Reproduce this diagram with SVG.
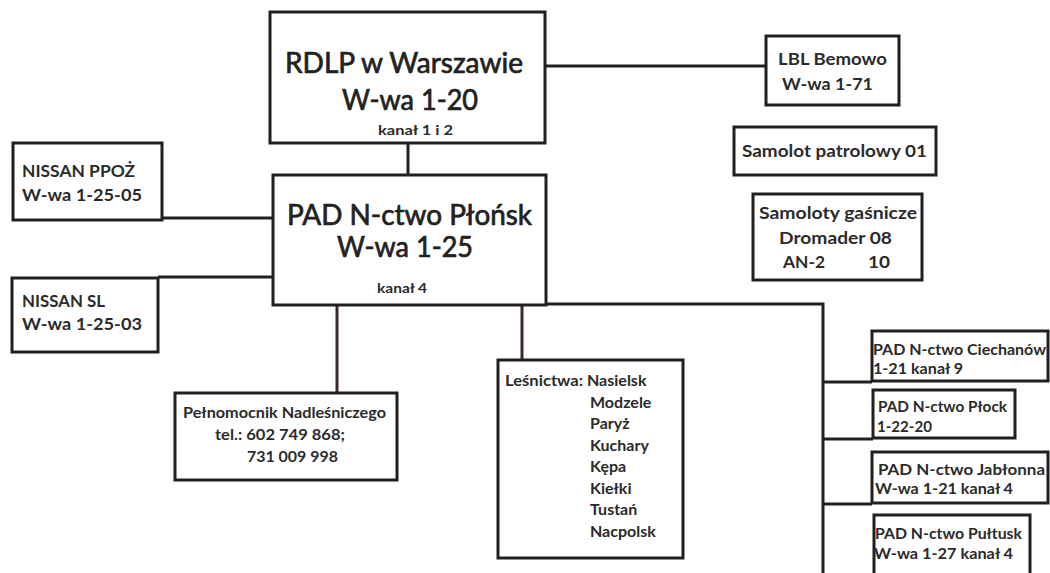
<svg xmlns="http://www.w3.org/2000/svg" width="1050" height="573" viewBox="0 0 1050 573">
<style>
.box{fill:#fff;stroke:#231f20;stroke-width:3}
.ln{fill:none;stroke:#231f20;stroke-width:3}
.ln2{fill:none;stroke:#3a2b26;stroke-width:3}
text{font-family:Lato,"Open Sans","Liberation Sans",sans-serif;font-weight:700;fill:#2b2b2b}
.big{font-size:28px;font-weight:400;fill:#222;stroke:#222;stroke-width:0.7}
.sm{font-size:13px}
.md{font-size:16px}
.mdl{font-size:17px}
</style>
<rect width="1050" height="573" fill="#fff"/>
<g id="connectors">
<path class="ln" d="M545 66H766"/>
<path class="ln" d="M408 143V175"/>
<path class="ln" d="M162 218H273"/>
<path class="ln" d="M158 277H273"/>
<path class="ln2" d="M337 305V393"/>
<path class="ln2" d="M522 305V360"/>
<path class="ln" d="M546 304H823V573"/>
<path class="ln" d="M823 382H872"/>
<path class="ln" d="M823 439H873"/>
<path class="ln" d="M823 504H872"/>
</g>
<g id="rdlp">
<rect class="box" x="270" y="12" width="275" height="131"/>
<text class="big" x="285" y="73" textLength="238" lengthAdjust="spacingAndGlyphs">RDLP w Warszawie</text>
<text class="big" x="342" y="110" textLength="136" lengthAdjust="spacingAndGlyphs">W-wa 1-20</text>
<text class="sm" x="378" y="135" textLength="75" lengthAdjust="spacingAndGlyphs">kanał 1 i 2</text>
</g>
<g id="lbl">
<rect class="box" x="766" y="36" width="133" height="69"/>
<text class="mdl" x="778" y="65" textLength="109" lengthAdjust="spacingAndGlyphs">LBL Bemowo</text>
<text class="mdl" x="782" y="90" textLength="91" lengthAdjust="spacingAndGlyphs">W-wa 1-71</text>
</g>
<g id="patrol">
<rect class="box" x="734" y="127" width="202" height="48"/>
<text class="mdl" x="742" y="157" textLength="185" lengthAdjust="spacingAndGlyphs">Samolot patrolowy 01</text>
</g>
<g id="gasnicze">
<rect class="box" x="753" y="194" width="169" height="86"/>
<text class="mdl" x="759" y="219" textLength="158" lengthAdjust="spacingAndGlyphs">Samoloty gaśnicze</text>
<text class="mdl" x="779" y="244" textLength="113" lengthAdjust="spacingAndGlyphs">Dromader 08</text>
<text class="mdl" x="783" y="268" textLength="42" lengthAdjust="spacingAndGlyphs">AN-2</text>
<text class="mdl" x="868" y="268" textLength="22" lengthAdjust="spacingAndGlyphs">10</text>
</g>
<g id="nissan-ppoz">
<rect class="box" x="13" y="143" width="149" height="77"/>
<text class="mdl" x="22" y="177" textLength="113" lengthAdjust="spacingAndGlyphs">NISSAN PPOŻ</text>
<text class="mdl" x="22" y="201" textLength="120" lengthAdjust="spacingAndGlyphs">W-wa 1-25-05</text>
</g>
<g id="nissan-sl">
<rect class="box" x="12" y="278" width="146" height="74"/>
<text class="mdl" x="22" y="307" textLength="83" lengthAdjust="spacingAndGlyphs">NISSAN SL</text>
<text class="mdl" x="22" y="330" textLength="120" lengthAdjust="spacingAndGlyphs">W-wa 1-25-03</text>
</g>
<g id="plonsk">
<rect class="box" x="273" y="175" width="273" height="130"/>
<text class="big" x="287" y="225" textLength="245" lengthAdjust="spacingAndGlyphs">PAD N-ctwo Płońsk</text>
<text class="big" x="337" y="257" textLength="136" lengthAdjust="spacingAndGlyphs">W-wa 1-25</text>
<text class="sm" x="377" y="293" textLength="50" lengthAdjust="spacingAndGlyphs">kanał 4</text>
</g>
<g id="pelnomocnik">
<rect class="box" x="175" y="393" width="222" height="87"/>
<text class="md" x="183" y="418" textLength="203" lengthAdjust="spacingAndGlyphs">Pełnomocnik Nadleśniczego</text>
<text class="md" x="215" y="440" textLength="130" lengthAdjust="spacingAndGlyphs">tel.: 602 749 868;</text>
<text class="md" x="247" y="462" textLength="91" lengthAdjust="spacingAndGlyphs">731 009 998</text>
</g>
<g id="lesnictwa">
<rect class="box" x="498" y="360" width="185" height="198"/>
<text class="md" x="505" y="386" textLength="78" lengthAdjust="spacingAndGlyphs">Leśnictwa:</text>
<text class="md" x="587" y="386">Nasielsk</text>
<text class="md" x="590" y="408">Modzele</text>
<text class="md" x="590" y="429">Paryż</text>
<text class="md" x="590" y="451">Kuchary</text>
<text class="md" x="590" y="472">Kępa</text>
<text class="md" x="590" y="494">Kiełki</text>
<text class="md" x="590" y="515">Tustań</text>
<text class="md" x="590" y="537">Nacpolsk</text>
</g>
<g id="ciechanow">
<rect class="box" x="872" y="331" width="176" height="50"/>
<text class="md" x="873" y="355" textLength="173" lengthAdjust="spacingAndGlyphs">PAD N-ctwo Ciechanów</text>
<text class="md" x="873" y="374" textLength="90" lengthAdjust="spacingAndGlyphs">1-21 kanał 9</text>
</g>
<g id="plock">
<rect class="box" x="873" y="390" width="142" height="48"/>
<text class="md" x="878" y="412" textLength="129" lengthAdjust="spacingAndGlyphs">PAD N-ctwo Płock</text>
<text class="md" x="877" y="432" textLength="55" lengthAdjust="spacingAndGlyphs">1-22-20</text>
</g>
<g id="jablonna">
<rect class="box" x="872" y="452" width="176" height="51"/>
<text class="md" x="878" y="475" textLength="167" lengthAdjust="spacingAndGlyphs">PAD N-ctwo Jabłonna</text>
<text class="md" x="875" y="494" textLength="138" lengthAdjust="spacingAndGlyphs">W-wa 1-21 kanał 4</text>
</g>
<g id="pultusk">
<rect class="box" x="874" y="515" width="156" height="70"/>
<text class="md" x="875" y="539" textLength="147" lengthAdjust="spacingAndGlyphs">PAD N-ctwo Pułtusk</text>
<text class="md" x="874" y="559" textLength="139" lengthAdjust="spacingAndGlyphs">W-wa 1-27 kanał 4</text>
</g>
</svg>
